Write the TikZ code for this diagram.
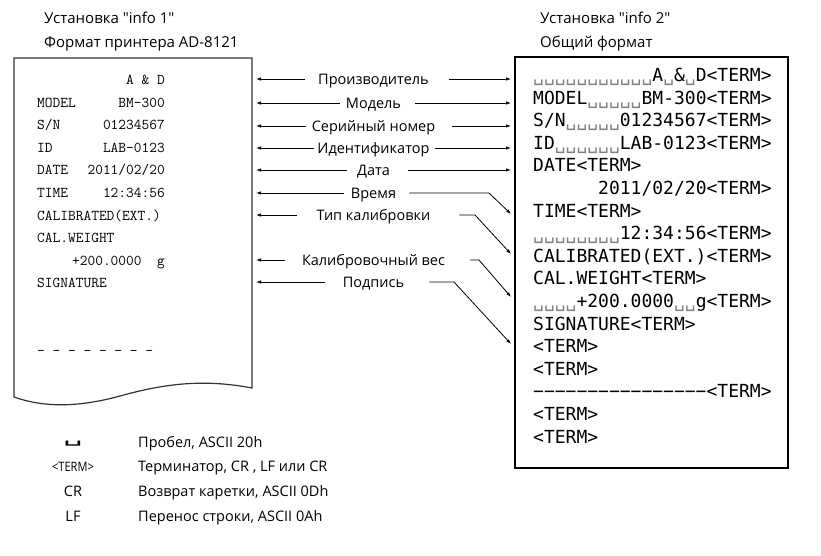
\documentclass[tikz,border=0pt]{standalone}
\usepackage{fontspec}
\setmainfont{Open Sans}[Ligatures=TeXOff]
\newfontfamily\termfont{DejaVu Sans Mono}
\usetikzlibrary{arrows.meta}
\tikzset{>={Latex[width=3.5pt,length=5pt]}}
\newcommand\blnk{{\color{gray}␣}}

\begin{document}
\begin{tikzpicture}[x=1pt,y=-1pt,
    hdr/.style={font=\fontsize{15}{17}\selectfont, inner sep=0pt, anchor=west, text height=11pt, text depth=0.5pt},
    lbl/.style={font=\fontsize{14.5}{17}\selectfont, inner sep=0pt, text height=11pt, text depth=0.5pt},
    prn/.style={font=\fontsize{15}{18}\ttfamily, inner sep=0pt, text height=9pt, text depth=0pt},
    term/.style={font=\fontsize{18}{20}\termfont, inner sep=0pt, anchor=west, text height=13pt, text depth=0pt},
    lgd/.style={font=\fontsize{14.5}{17}\selectfont, inner sep=0pt, text height=11pt, text depth=0.5pt},
    arr/.style={->, line width=0.8pt}]
    \useasboundingbox (0,0) rectangle (821,555);

    % headers
    \node[hdr] (hleft) at (44,18) {Установка "info 1"};
    \node[hdr] (hleftb) at (44,42) {Формат принтера AD-8121};
    \node[hdr] (hright) at (540,18) {Установка "info 2"};
    \node[hdr] (hrightb) at (540,42) {Общий формат};

    % printer paper
    \draw[line width=1.2pt, black!80] (14,58) -- (252,58) -- (252,388)
        .. controls (200,378) and (160,385) .. (120,396)
        .. controls (80,407) and (45,408) .. (14,397) -- cycle;
    \node[prn, anchor=east] (p0) at (165,80) {A \& D};
    \foreach \k/\v [count=\i, evaluate=\i as \y using 80+22.6*\i] in
        {MODEL/BM-300, {S/N}/01234567, ID/LAB-0123, DATE/{2011/02/20}, TIME/12:34:56}
    {
        \node[prn, anchor=west] (pk\i) at (37,\y) {\k};
        \node[prn, anchor=east] (pv\i) at (165,\y) {\v};
    }
    \node[prn, anchor=west] (p6) at (37,215.6) {CALIBRATED(EXT.)};
    \node[prn, anchor=west] (p7) at (37,238.2) {CAL.WEIGHT};
    \node[prn, anchor=east] (p8) at (165,260.8) {+200.0000\ \ g};
    \node[prn, anchor=west] (p9) at (37,283.4) {SIGNATURE};
    \node[prn, anchor=west] (p12) at (37,351.2) {- - - - - - - -};

    % general format box
    \draw[line width=1.2pt] (515,57) rectangle (788,468);
    \foreach \t [count=\i from 0] in
        {{\blnk\blnk\blnk\blnk\blnk\blnk\blnk\blnk\blnk\blnk\blnk A\blnk\&\blnk D<TERM>},
         {MODEL\blnk\blnk\blnk\blnk\blnk BM-300<TERM>},
         {S/N\blnk\blnk\blnk\blnk\blnk 01234567<TERM>},
         {ID\blnk\blnk\blnk\blnk\blnk\blnk LAB-0123<TERM>},
         {DATE<TERM>},
         {\hphantom{000000}2011/02/20<TERM>},
         {TIME<TERM>},
         {\blnk\blnk\blnk\blnk\blnk\blnk\blnk\blnk 12:34:56<TERM>},
         {CALIBRATED(EXT.)<TERM>},
         {CAL.WEIGHT<TERM>},
         {\blnk\blnk\blnk\blnk +200.0000\blnk\blnk g<TERM>},
         {SIGNATURE<TERM>},
         {<TERM>},
         {<TERM>},
         {−−−−−−−−−−−−−−−−<TERM>},
         {<TERM>},
         {<TERM>}}
    {
        \node[term] (r\i) at (533,{75+22.6*\i}) {\t};
    }

    % labels with straight arrows
    \foreach \n/\txt/\y/\gl/\gr in
        {1/Производитель/79/13/20, 2/Модель/103/6/14, 3/Серийный номер/126/6/17,
         4/Идентификатор/148/3/5, 5/Дата/170/10/18}
    {
        \node[lbl] (l\n) at (373.5,\y) {\txt};
        \coordinate (s\n) at (256,\y);
        \coordinate (t\n) at (511,\y);
        \draw[arr] ([xshift=-\gl]l\n.west) -- (s\n);
        \draw[arr] ([xshift=\gr]l\n.east) -- (t\n);
    }
    % labels with bent arrows
    \foreach \n/\txt/\y/\gl/\gr/\bx/\ty in
        {6/Время/193/7/13/489/214, 7/Тип калибровки/215/20/29/475/254,
         8/Калибровочный вес/260/17/25/479/297, 9/Подпись/282/18/25/454/344}
    {
        \node[lbl] (l\n) at (373.5,\y) {\txt};
        \coordinate (s\n) at (256,\y);
        \coordinate (b\n) at (\bx,\y);
        \coordinate (t\n) at (511,\ty);
        \draw[arr] ([xshift=-\gl]l\n.west) -- (s\n);
        \draw[arr] ([xshift=\gr]l\n.east) -- (b\n) -- (t\n);
    }

    % legend
    \node[lgd, font=\fontsize{16}{18}\termfont] (k1) at (73,437) {\scalebox{2}[1]{␣}};
    \node[lgd, font=\fontsize{13}{15}\selectfont] (k2) at (73,466) {\scalebox{0.85}[1]{<TERM>}};
    \node[lgd] (k3) at (73,491) {CR};
    \node[lgd] (k4) at (73,516) {LF};
    \node[lgd, anchor=west] (d1) at (138,442) {Пробел, ASCII 20h};
    \node[lgd, anchor=west] (d2) at (138,466) {Терминатор, CR , LF или CR};
    \node[lgd, anchor=west] (d3) at (138,491) {Возврат каретки, ASCII 0Dh};
    \node[lgd, anchor=west] (d4) at (138,516) {Перенос строки, ASCII 0Ah};
\end{tikzpicture}
\end{document}
